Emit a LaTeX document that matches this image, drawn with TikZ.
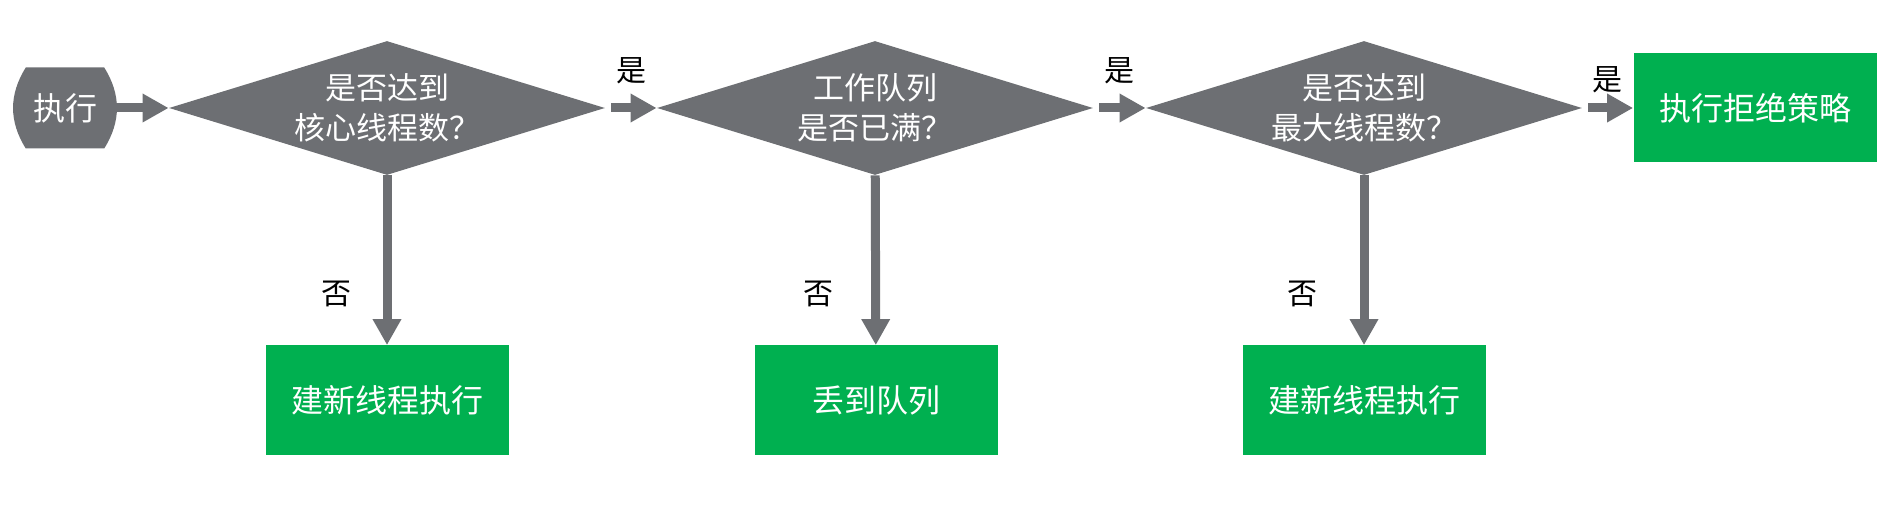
\documentclass[tikz,border=0pt]{standalone}
\usepackage{fontspec}
\newfontfamily\cjk{Noto Sans CJK SC}
\usetikzlibrary{positioning,arrows.meta,shapes.geometric}
\definecolor{myGray}{RGB}{109,111,115}
\definecolor{myGreen}{RGB}{0,176,80}
\tikzset{
  terminal/.style={rectangle, text=white, minimum width=52pt, minimum height=40.5pt, inner sep=0pt,
    font=\cjk\fontsize{16}{20}\selectfont,
    path picture={\fill[myGray] ([xshift=6.4pt]path picture bounding box.north west)
      -- ([xshift=-6.4pt]path picture bounding box.north east)
      .. controls ([xshift=2.1pt,yshift=-13.5pt]path picture bounding box.north east)
      and ([xshift=2.1pt,yshift=13.5pt]path picture bounding box.south east)
      .. ([xshift=-6.4pt]path picture bounding box.south east)
      -- ([xshift=6.4pt]path picture bounding box.south west)
      .. controls ([xshift=-2.1pt,yshift=13.5pt]path picture bounding box.south west)
      and ([xshift=-2.1pt,yshift=-13.5pt]path picture bounding box.north west)
      .. ([xshift=6.4pt]path picture bounding box.north west) -- cycle;}},
  decision/.style={diamond, aspect=3.25, fill=myGray, text=white, align=center,
    minimum width=218pt, minimum height=67pt, inner sep=0pt,
    font=\cjk\fontsize{15.5}{20}\selectfont},
  action/.style={rectangle, fill=myGreen, text=white,
    minimum width=121.5pt, minimum height=54.5pt,
    font=\cjk\fontsize{16}{20}\selectfont},
  flow/.style={draw=myGray, line width=4.5pt, -{Triangle[length=13pt,width=13.5pt]}},
  answer/.style={text=black, inner sep=0pt, font=\cjk\fontsize{15}{18}\selectfont}
}

\begin{document}
\begin{tikzpicture}[x=0.5pt,y=-0.5pt]
  \useasboundingbox (0,0) rectangle (1900,523);
  \node[terminal] (start) at (65,108) {执行};
  \node[decision] (core) at (387,108) {是否达到\\核心线程数？};
  \node[decision] (queue) at (875,108) {工作队列\\是否已满？};
  \node[decision] (max) at (1364,108) {是否达到\\最大线程数？};
  \node[action] (reject) at (1755,108) {执行拒绝策略};
  \node[action] (newcore) at (387,400) {建新线程执行};
  \node[action] (enqueue) at (876,400) {丢到队列};
  \node[action] (newmax) at (1364,400) {建新线程执行};
  \draw[flow] (start) -- (core);
  \draw[flow,shorten <=3pt] (core) -- node[answer,yshift=18.5pt] {是} (queue);
  \draw[flow,shorten <=3pt] (queue) -- node[answer,yshift=18.5pt] {是} (max);
  \draw[flow,shorten <=3pt] (max) -- node[answer,yshift=14pt] {是} (reject);
  \draw[flow] (core) -- node[answer,pos=0.7,xshift=-25.5pt] {否} (newcore);
  \draw[flow] (queue) -- node[answer,pos=0.7,xshift=-28.5pt] {否} (enqueue);
  \draw[flow] (max) -- node[answer,pos=0.7,xshift=-31pt] {否} (newmax);
\end{tikzpicture}
\end{document}
